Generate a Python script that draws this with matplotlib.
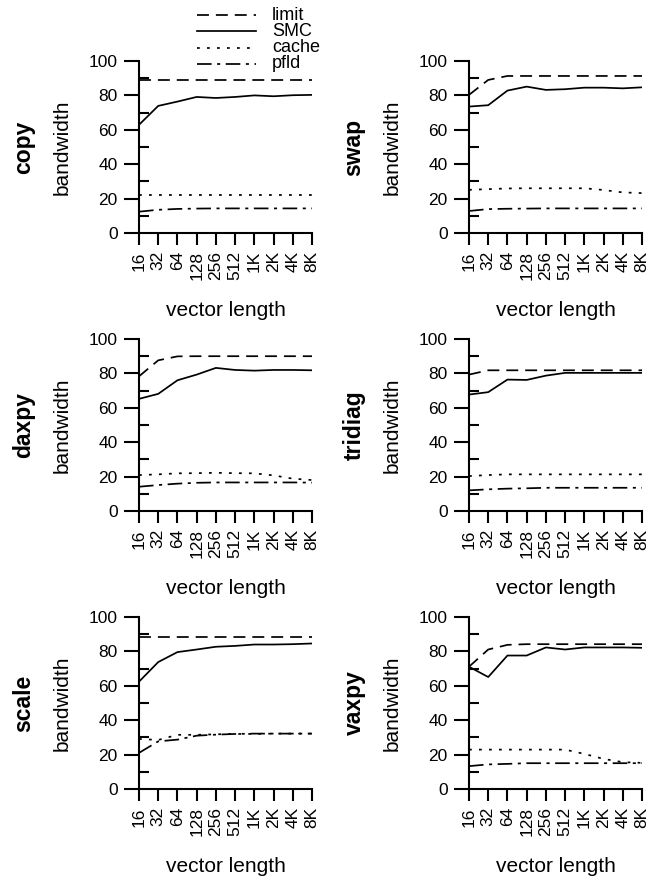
import matplotlib
matplotlib.use('Agg')
import matplotlib.pyplot as plt
from matplotlib.lines import Line2D

plt.rcParams['font.family'] = ['Liberation Sans', 'DejaVu Sans']
plt.rcParams['lines.scale_dashes'] = False

# x轴刻度(向量长度)
x_labels = ['16', '32', '64', '128', '256', '512', '1K', '2K', '4K', '8K']

# 每个子图的数据: limit / SMC / cache / pfld
copy_limit = [89.0, 89.0, 89.0, 89.0, 89.0, 89.0, 89.0, 89.0, 89.0, 89.0]
copy_smc = [62.9, 73.9, 76.4, 79.1, 78.5, 79.1, 80.0, 79.5, 80.1, 80.3]
copy_cache = [22.2, 22.2, 22.2, 22.2, 22.2, 22.2, 22.2, 22.2, 22.2, 22.2]
copy_pfld = [12.4, 13.5, 14.0, 14.2, 14.3, 14.3, 14.3, 14.3, 14.3, 14.3]

swap_limit = [80.3, 89.0, 91.3, 91.3, 91.3, 91.3, 91.3, 91.3, 91.3, 91.3]
swap_smc = [73.5, 74.3, 82.8, 85.1, 83.2, 83.6, 84.5, 84.5, 84.1, 84.7]
swap_cache = [25.1, 25.5, 25.9, 26.0, 26.0, 26.0, 26.0, 25.0, 23.6, 23.2]
swap_pfld = [12.8, 13.9, 14.1, 14.2, 14.3, 14.3, 14.3, 14.3, 14.3, 14.3]

daxpy_limit = [78.3, 87.6, 89.9, 90.0, 90.0, 90.0, 90.0, 90.0, 90.0, 90.0]
daxpy_smc = [65.2, 68.1, 76.0, 79.3, 83.2, 82.0, 81.6, 82.0, 82.0, 81.8]
daxpy_cache = [20.9, 21.3, 21.9, 22.0, 22.2, 22.0, 21.9, 20.7, 18.8, 18.0]
daxpy_pfld = [14.1, 15.1, 15.9, 16.4, 16.6, 16.6, 16.6, 16.6, 16.6, 16.5]

tridiag_limit = [79.3, 81.8, 81.8, 81.8, 81.8, 81.8, 81.8, 81.8, 81.8, 81.8]
tridiag_smc = [67.7, 69.1, 76.4, 76.2, 78.7, 80.3, 80.3, 80.3, 80.3, 80.3]
tridiag_cache = [20.3, 20.9, 21.3, 21.3, 21.3, 21.3, 21.3, 21.3, 21.3, 21.3]
tridiag_pfld = [12.0, 12.6, 13.0, 13.2, 13.5, 13.5, 13.5, 13.5, 13.5, 13.5]

scale_limit = [88.6, 88.6, 88.6, 88.6, 88.6, 88.6, 88.6, 88.6, 88.6, 88.6]
scale_smc = [62.4, 73.8, 79.6, 81.1, 82.7, 83.2, 84.0, 84.0, 84.2, 84.6]
scale_cache = [29.1, 28.5, 31.5, 31.5, 31.8, 32.0, 32.0, 32.2, 32.2, 32.2]
scale_pfld = [21.0, 27.7, 28.7, 31.0, 31.6, 32.0, 32.2, 32.2, 32.2, 32.2]

vaxpy_limit = [71.1, 81.1, 83.8, 84.2, 84.2, 84.2, 84.2, 84.2, 84.2, 84.2]
vaxpy_smc = [71.1, 65.1, 77.6, 77.6, 82.3, 81.1, 82.3, 82.3, 82.3, 82.1]
vaxpy_cache = [22.9, 22.9, 22.9, 22.9, 22.9, 22.9, 20.4, 17.5, 15.6, 15.2]
vaxpy_pfld = [13.3, 14.3, 14.6, 15.0, 15.0, 15.0, 15.0, 15.0, 15.0, 15.0]

panels = [
    ('copy', copy_limit, copy_smc, copy_cache, copy_pfld),
    ('swap', swap_limit, swap_smc, swap_cache, swap_pfld),
    ('daxpy', daxpy_limit, daxpy_smc, daxpy_cache, daxpy_pfld),
    ('tridiag', tridiag_limit, tridiag_smc, tridiag_cache, tridiag_pfld),
    ('scale', scale_limit, scale_smc, scale_cache, scale_pfld),
    ('vaxpy', vaxpy_limit, vaxpy_smc, vaxpy_cache, vaxpy_pfld),
]

# 线型: 名称 -> dashes (单位 pt)
styles = {
    'limit': (0, (8.6, 5.0)),
    'SMC': '-',
    'cache': (0, (2.0, 5.2)),
    'pfld': (0, (10.5, 4.0, 2.2, 4.0)),
}
lw = 1.25

fig = plt.figure(figsize=(6.47, 8.77), dpi=100)
W, H = 647, 877

# 子图位置(像素)
col_left = [139, 469]
row_top = [61, 339, 617]
ax_w, ax_h = 173, 172

for i, (name, limit, smc, cache, pfld) in enumerate(panels):
    r, c = divmod(i, 2)
    left = col_left[c] / W
    bottom = 1 - (row_top[r] + ax_h) / H
    ax = fig.add_axes([left, bottom, ax_w / W, ax_h / H])
    xs = range(len(x_labels))
    ax.plot(xs, limit, color='black', lw=lw, linestyle=styles['limit'])
    ax.plot(xs, smc, color='black', lw=lw, linestyle=styles['SMC'])
    ax.plot(xs, cache, color='black', lw=lw, linestyle=styles['cache'])
    ax.plot(xs, pfld, color='black', lw=lw, linestyle=styles['pfld'])

    ax.set_xlim(0, len(x_labels) - 1)
    ax.set_ylim(0, 100)
    ax.set_xticks(list(xs))
    ax.set_xticklabels(x_labels, rotation=90, fontsize=12.5)
    ax.set_yticks([0, 20, 40, 60, 80, 100])
    ax.set_yticks([10, 30, 50, 70, 90], minor=True)
    ax.tick_params(axis='y', which='major', direction='out', length=10.8, width=1.5, pad=4.5, labelsize=12.5)
    ax.tick_params(axis='y', which='minor', direction='in', length=7.2, width=1.5)
    ax.tick_params(axis='x', which='major', direction='out', length=8.6, width=1.5, pad=4.5)
    for s in ['top', 'right']:
        ax.spines[s].set_visible(False)
    for s in ['left', 'bottom']:
        ax.spines[s].set_linewidth(1.5)
    ax.patch.set_visible(False)

    ax.text(0.5, -0.448, 'vector length', transform=ax.transAxes, ha='center', va='center', fontsize=15)
    ax.text(-0.445, 0.5, 'bandwidth', transform=ax.transAxes, ha='center', va='center', rotation=90, fontsize=15)
    ax.text(-0.665, 0.5, name, transform=ax.transAxes, ha='center', va='center', rotation=90,
            fontsize=16.5, fontweight='bold')

# 图例(手动画在顶部)
leg_rows = [('limit', 15), ('SMC', 31), ('cache', 48), ('pfld', 64)]
for label, y in leg_rows:
    fy = 1 - y / H
    fig.add_artist(Line2D([197 / W, 256 / W], [fy, fy], transform=fig.transFigure,
                          color='black', lw=lw, linestyle=styles[label]))
    fig.text(272 / W, fy, label, ha='left', va='center', fontsize=13)

fig.savefig('out.png', dpi=100)
